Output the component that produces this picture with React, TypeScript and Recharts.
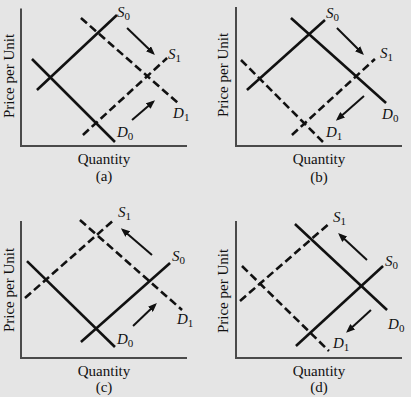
import React from 'react';
import { LineChart, Line, XAxis, YAxis, ReferenceLine } from 'recharts';

type Pt = { x: number; y: number };

// ---------- Panel (a): supply and demand both increase ----------
const aS0: Pt[] = [{ x: 9.6, y: 40.6 }, { x: 57.8, y: 94.9 }];
const aD0: Pt[] = [{ x: 6.6, y: 63.0 }, { x: 56.6, y: 2.9 }];
const aS1: Pt[] = [{ x: 37.3, y: 8.0 }, { x: 88.0, y: 63.7 }];
const aD1: Pt[] = [{ x: 36.1, y: 92.7 }, { x: 94.6, y: 31.1 }];
const aArrow1: Pt[] = [{ x: 63.9, y: 85.4 }, { x: 79.5, y: 67.3 }];
const aArrow2: Pt[] = [{ x: 66.9, y: 18.8 }, { x: 79.5, y: 31.9 }];

// ---------- Panel (b): supply increases, demand decreases ----------
const bS0: Pt[] = [{ x: 6.6, y: 40.6 }, { x: 53.6, y: 91.2 }];
const bD0: Pt[] = [{ x: 33.1, y: 92.7 }, { x: 90.4, y: 31.1 }];
const bS1: Pt[] = [{ x: 33.7, y: 8.0 }, { x: 83.7, y: 63.0 }];
const bD1: Pt[] = [{ x: 3.0, y: 62.3 }, { x: 52.4, y: 2.9 }];
const bArrow1: Pt[] = [{ x: 60.8, y: 85.4 }, { x: 75.9, y: 67.3 }];
const bArrow2: Pt[] = [{ x: 77.1, y: 36.2 }, { x: 61.4, y: 19.6 }];

// ---------- Panel (c): supply decreases, demand increases ----------
const cS0: Pt[] = [{ x: 36.1, y: 11.6 }, { x: 89.8, y: 68.8 }];
const cD0: Pt[] = [{ x: 3.6, y: 70.2 }, { x: 56.6, y: 8.0 }];
const cS1: Pt[] = [{ x: 2.4, y: 43.4 }, { x: 56.6, y: 100.7 }];
const cD1: Pt[] = [{ x: 35.5, y: 99.9 }, { x: 97.0, y: 34.8 }];
const cArrow1: Pt[] = [{ x: 78.9, y: 74.6 }, { x: 61.4, y: 92.7 }];
const cArrow2: Pt[] = [{ x: 67.5, y: 23.2 }, { x: 80.7, y: 38.4 }];

// ---------- Panel (d): supply and demand both decrease ----------
const dS0: Pt[] = [{ x: 36.1, y: 8.7 }, { x: 88.6, y: 66.6 }];
const dD0: Pt[] = [{ x: 35.5, y: 97.0 }, { x: 91.0, y: 34.8 }];
const dS1: Pt[] = [{ x: 2.4, y: 41.3 }, { x: 56.6, y: 97.8 }];
const dD1: Pt[] = [{ x: 3.6, y: 66.6 }, { x: 56.0, y: 5.1 }];
const dArrow1: Pt[] = [{ x: 78.9, y: 71.0 }, { x: 62.7, y: 89.1 }];
const dArrow2: Pt[] = [{ x: 81.3, y: 34.8 }, { x: 67.5, y: 19.6 }];

const xAxisTitle = 'Quantity';
const yAxisTitle = 'Price per Unit';
const panelTags = ['(a)', '(b)', '(c)', '(d)'];

const X_DOMAIN: [number, number] = [0, 100];
const Y_DOMAIN: [number, number] = [0, 105];
const FONT = '"Liberation Serif", "Times New Roman", Times, serif';
const INK = '#111';

type Curve = {
  letter: string;
  sub: string;
  data: Pt[];
  dashed: boolean;
  dx: number;
  dy: number;
};

type PanelDef = {
  id: string;
  tag: string;
  left: number;
  top: number;
  w: number;
  h: number;
  margin: { top: number; right: number; bottom: number; left: number };
  axisTop: number;
  curves: Curve[];
  arrows: Pt[][];
  qBase: number;
  tagBase: number;
  yTitleX: number;
  yTitleY: number;
  xCenter: number;
};

const panels: PanelDef[] = [
  {
    id: 'a', tag: panelTags[0], left: 0, top: 0, w: 205, h: 198,
    margin: { top: 1, right: 18, bottom: 52, left: 21 }, axisTop: 99.5,
    curves: [
      { letter: 'S', sub: '0', data: aS0, dashed: false, dx: 0, dy: 2 },
      { letter: 'D', sub: '0', data: aD0, dashed: false, dx: 2, dy: -5 },
      { letter: 'S', sub: '1', data: aS1, dashed: true, dx: 1, dy: 1 },
      { letter: 'D', sub: '1', data: aD1, dashed: true, dx: -5, dy: 15 },
    ],
    arrows: [aArrow1, aArrow2],
    qBase: 164, tagBase: 181, yTitleX: 14, yTitleY: 76, xCenter: 104,
  },
  {
    id: 'b', tag: panelTags[1], left: 205, top: 0, w: 206, h: 198,
    margin: { top: 1, right: 9, bottom: 52, left: 31 }, axisTop: 100.7,
    curves: [
      { letter: 'S', sub: '0', data: bS0, dashed: false, dx: 1, dy: -2 },
      { letter: 'D', sub: '0', data: bD0, dashed: false, dx: -4, dy: 16 },
      { letter: 'S', sub: '1', data: bS1, dashed: true, dx: 5, dy: -1 },
      { letter: 'D', sub: '1', data: bD1, dashed: true, dx: 3, dy: -5 },
    ],
    arrows: [bArrow1, bArrow2],
    qBase: 164, tagBase: 182, yTitleX: 23, yTitleY: 75, xCenter: 114,
  },
  {
    id: 'c', tag: panelTags[2], left: 0, top: 198, w: 205, h: 199,
    margin: { top: 15, right: 18, bottom: 39, left: 21 }, axisTop: 99.2,
    curves: [
      { letter: 'S', sub: '0', data: cS0, dashed: false, dx: 2, dy: -2 },
      { letter: 'D', sub: '0', data: cD0, dashed: false, dx: 2, dy: -3 },
      { letter: 'S', sub: '1', data: cS1, dashed: true, dx: 3, dy: -2 },
      { letter: 'D', sub: '1', data: cD1, dashed: true, dx: -5, dy: 14 },
    ],
    arrows: [cArrow1, cArrow2],
    qBase: 178, tagBase: 194, yTitleX: 14, yTitleY: 92, xCenter: 104,
  },
  {
    id: 'd', tag: panelTags[3], left: 205, top: 198, w: 206, h: 199,
    margin: { top: 15, right: 9, bottom: 39, left: 31 }, axisTop: 99.2,
    curves: [
      { letter: 'S', sub: '0', data: dS0, dashed: false, dx: 2, dy: 0 },
      { letter: 'D', sub: '0', data: dD0, dashed: false, dx: 1, dy: 19 },
      { letter: 'S', sub: '1', data: dS1, dashed: true, dx: 3, dy: -1 },
      { letter: 'D', sub: '1', data: dD1, dashed: true, dx: 4, dy: -3 },
    ],
    arrows: [dArrow1, dArrow2],
    qBase: 178, tagBase: 194, yTitleX: 23, yTitleY: 93, xCenter: 114,
  },
];

function makeLabelDot(c: Curve) {
  return (p: any) => {
    if (p.index !== c.data.length - 1) return <g key={p.key ?? `d-${p.index}`} />;
    return (
      <text
        key={p.key ?? `l-${p.index}`}
        x={p.cx + c.dx}
        y={p.cy + c.dy}
        fontFamily={FONT}
        fontSize={15}
        fill={INK}
      >
        <tspan fontStyle="italic">{c.letter}</tspan>
        <tspan fontSize={11} dy={3}>{c.sub}</tspan>
      </text>
    );
  };
}

function Panel({ p }: { p: PanelDef }) {
  const markerId = `arrow-${p.id}`;
  return (
    <div style={{ position: 'absolute', left: p.left, top: p.top }}>
      <LineChart width={p.w} height={p.h} margin={p.margin}>
        <defs>
          <marker
            id={markerId}
            viewBox="0 0 10 8"
            refX="7"
            refY="4"
            markerWidth="4.5"
            markerHeight="3.6"
            orient="auto"
            markerUnits="strokeWidth"
          >
            <path d="M0,0 L10,4 L0,8 z" fill={INK} />
          </marker>
        </defs>
        <XAxis type="number" dataKey="x" domain={X_DOMAIN} hide />
        <YAxis type="number" dataKey="y" domain={Y_DOMAIN} hide />
        <ReferenceLine
          segment={[{ x: 0, y: 0 }, { x: 0, y: p.axisTop }]}
          stroke="#4a4a4a"
          strokeWidth={2}
          ifOverflow="visible"
        />
        <ReferenceLine
          segment={[{ x: -0.6, y: 0 }, { x: 100, y: 0 }]}
          stroke="#4a4a4a"
          strokeWidth={2}
          ifOverflow="visible"
        />
        {p.curves.map((c, i) => (
          <Line
            key={`c-${i}`}
            data={c.data}
            dataKey="y"
            type="linear"
            stroke={INK}
            strokeWidth={2.6}
            strokeDasharray={c.dashed ? '8 4' : undefined}
            dot={makeLabelDot(c)}
            activeDot={false}
            isAnimationActive={false}
          />
        ))}
        {p.arrows.map((a, i) => (
          <Line
            key={`a-${i}`}
            data={a}
            dataKey="y"
            type="linear"
            stroke={INK}
            strokeWidth={2}
            dot={false}
            activeDot={false}
            markerEnd={`url(#${markerId})`}
            isAnimationActive={false}
          />
        ))}
        <text x={p.xCenter} y={p.qBase} textAnchor="middle" fontFamily={FONT} fontSize={15} fill={INK}>
          {xAxisTitle}
        </text>
        <text x={p.xCenter} y={p.tagBase} textAnchor="middle" fontFamily={FONT} fontSize={15} fill={INK}>
          {p.tag}
        </text>
        <text
          x={p.yTitleX}
          y={p.yTitleY}
          textAnchor="middle"
          fontFamily={FONT}
          fontSize={15}
          fill={INK}
          transform={`rotate(-90 ${p.yTitleX} ${p.yTitleY})`}
        >
          {yAxisTitle}
        </text>
      </LineChart>
    </div>
  );
}

export default function App() {
  return (
    <div
      style={{
        position: 'absolute',
        left: 0,
        top: 0,
        width: 411,
        height: 397,
        background: '#e5e5e5',
        overflow: 'hidden',
      }}
    >
      {panels.map((p) => (
        <Panel key={p.id} p={p} />
      ))}
    </div>
  );
}
